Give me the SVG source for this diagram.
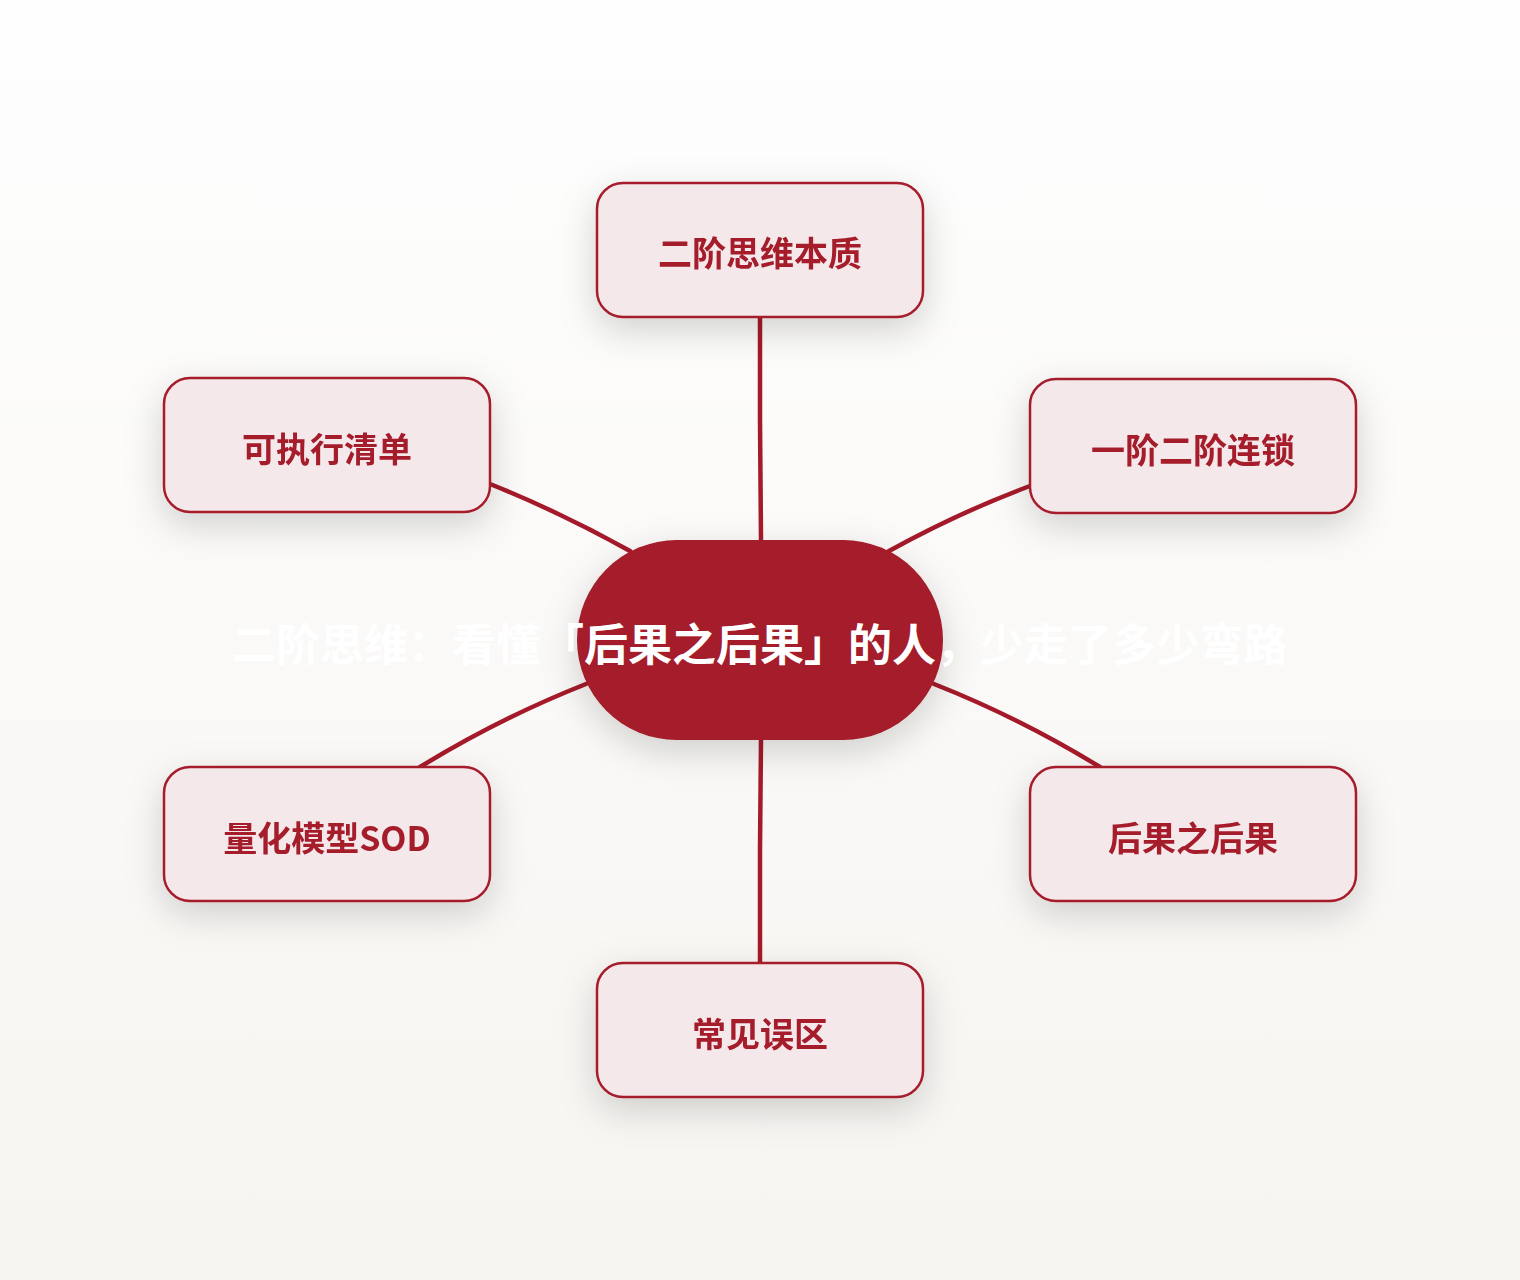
<svg xmlns="http://www.w3.org/2000/svg" width="1520" height="1280" viewBox="0 0 1520 1280">
<defs>
<linearGradient id="bg" x1="0" y1="0" x2="0" y2="1">
<stop offset="0" stop-color="#FEFEFE"/>
<stop offset="1" stop-color="#F7F5F1"/>
</linearGradient>
<filter id="sh" x="-40%" y="-50%" width="180%" height="210%">
<feDropShadow dx="0" dy="12" stdDeviation="18" flood-color="#000" flood-opacity="0.17"/>
</filter>
<style>
.node rect{fill:#F5E8EA;stroke:#A51A2A;stroke-width:2.5}
.node text{font-family:"Noto Sans CJK SC","Microsoft YaHei",sans-serif;font-weight:700;font-size:34px;fill:#A51A2A;text-anchor:middle;dominant-baseline:central}
.edges path{fill:none;stroke:#A51A2A;stroke-width:4.5;stroke-linecap:round}
#center rect{fill:#A51A2A}
</style>
</defs>
<rect width="1520" height="1280" fill="url(#bg)"/>
<g class="edges" id="connectors">
<path d="M760,317 L760,420 L761,540"/>
<path d="M490,484 Q560,512 630,551"/>
<path d="M1030,486 Q960,512 889,551"/>
<path d="M586,684 Q500,718 420,767"/>
<path d="M934,684 Q1020,718 1100,767"/>
<path d="M761,740 L760,850 L760,963"/>
</g>
<g id="center" filter="url(#sh)">
<rect x="577" y="540" width="366" height="200" rx="100" ry="100"/>
</g>
<g id="center-label">
<text x="760" y="642" style="font-family:'Noto Sans CJK SC','Microsoft YaHei',sans-serif;font-weight:700;font-size:44px;fill:#FFFFFF;text-anchor:middle;dominant-baseline:central">二阶思维：看懂「后果之后果」的人，少走了多少弯路</text>
</g>
<g class="node" id="n-top" filter="url(#sh)">
<rect x="597" y="183" width="326" height="134" rx="26"/>
<text x="760" y="251">二阶思维本质</text>
</g>
<g class="node" id="n-ru" filter="url(#sh)">
<rect x="1030" y="379" width="326" height="134" rx="26"/>
<text x="1193" y="448">一阶二阶连锁</text>
</g>
<g class="node" id="n-lu" filter="url(#sh)">
<rect x="164" y="378" width="326" height="134" rx="26"/>
<text x="327" y="447">可执行清单</text>
</g>
<g class="node" id="n-ll" filter="url(#sh)">
<rect x="164" y="767" width="326" height="134" rx="26"/>
<text x="327" y="836">量化模型SOD</text>
</g>
<g class="node" id="n-rl" filter="url(#sh)">
<rect x="1030" y="767" width="326" height="134" rx="26"/>
<text x="1193" y="836">后果之后果</text>
</g>
<g class="node" id="n-bottom" filter="url(#sh)">
<rect x="597" y="963" width="326" height="134" rx="26"/>
<text x="760" y="1032">常见误区</text>
</g>
</svg>
